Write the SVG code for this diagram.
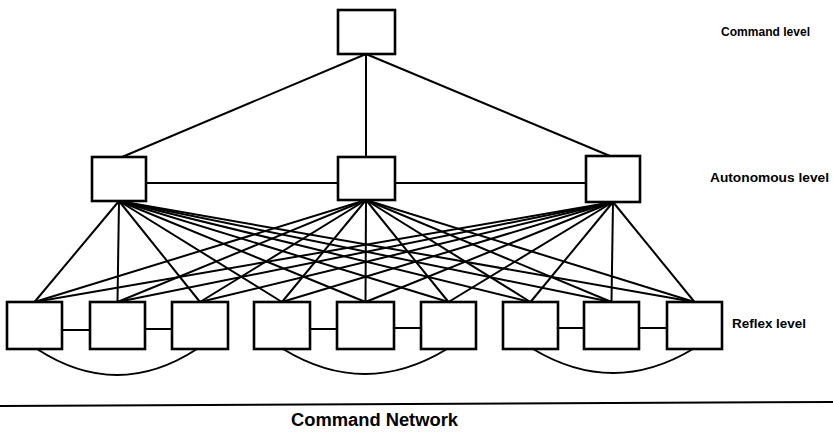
<svg xmlns="http://www.w3.org/2000/svg" width="833" height="432" viewBox="0 0 833 432">
<style>
.box{fill:#fff;stroke:#000;stroke-width:2.6}
.ln{stroke:#000;stroke-width:2;fill:none}
.lbl{font-family:"Liberation Sans",Arial,sans-serif;font-weight:bold;font-size:13px;fill:#000}
.title{font-family:"Liberation Sans",Arial,sans-serif;font-weight:bold;font-size:18px;fill:#000}
</style>
<rect width="833" height="432" fill="#fff"/>
<g id="connectors" class="ln">
<line x1="366" y1="54" x2="122" y2="157"/>
<line x1="366" y1="54" x2="366" y2="157"/>
<line x1="366" y1="54" x2="610" y2="156"/>
<line x1="146" y1="183" x2="338" y2="183"/>
<line x1="395" y1="183" x2="586" y2="183"/>
<line x1="119" y1="201" x2="34.5" y2="302"/><line x1="119" y1="201" x2="117.5" y2="302"/><line x1="119" y1="201" x2="200" y2="302"/><line x1="119" y1="201" x2="282" y2="302"/><line x1="119" y1="201" x2="365.5" y2="302"/><line x1="119" y1="201" x2="448.5" y2="302"/><line x1="119" y1="201" x2="530.5" y2="302"/><line x1="119" y1="201" x2="611.5" y2="302"/><line x1="119" y1="201" x2="694.5" y2="302"/>
<line x1="366" y1="200" x2="34.5" y2="302"/><line x1="366" y1="200" x2="117.5" y2="302"/><line x1="366" y1="200" x2="200" y2="302"/><line x1="366" y1="200" x2="282" y2="302"/><line x1="366" y1="200" x2="365.5" y2="302"/><line x1="366" y1="200" x2="448.5" y2="302"/><line x1="366" y1="200" x2="530.5" y2="302"/><line x1="366" y1="200" x2="611.5" y2="302"/><line x1="366" y1="200" x2="694.5" y2="302"/>
<line x1="613" y1="202" x2="34.5" y2="302"/><line x1="613" y1="202" x2="117.5" y2="302"/><line x1="613" y1="202" x2="200" y2="302"/><line x1="613" y1="202" x2="282" y2="302"/><line x1="613" y1="202" x2="365.5" y2="302"/><line x1="613" y1="202" x2="448.5" y2="302"/><line x1="613" y1="202" x2="530.5" y2="302"/><line x1="613" y1="202" x2="611.5" y2="302"/><line x1="613" y1="202" x2="694.5" y2="302"/>
<line x1="62" y1="330" x2="90" y2="330"/>
<line x1="145" y1="329" x2="172" y2="329"/>
<line x1="310" y1="329" x2="337" y2="329"/>
<line x1="394" y1="328" x2="421" y2="328"/>
<line x1="558" y1="328" x2="584" y2="328"/>
<line x1="639" y1="328" x2="667" y2="328"/>
<path d="M37 349 Q117 401 197 349"/>
<path d="M283 349 Q365 399 447 349"/>
<path d="M533 349 Q613 397 693 349"/>
</g>
<g id="command"><rect class="box" x="338" y="10" width="57" height="44"/></g>
<g id="auto1"><rect class="box" x="92" y="157" width="54" height="44"/></g>
<g id="auto2"><rect class="box" x="338" y="157" width="57" height="43"/></g>
<g id="auto3"><rect class="box" x="586" y="156" width="54" height="46"/></g>
<g id="reflex1"><rect class="box" x="7" y="302" width="55" height="47"/></g>
<g id="reflex2"><rect class="box" x="90" y="302" width="55" height="47"/></g>
<g id="reflex3"><rect class="box" x="172" y="302" width="56" height="47"/></g>
<g id="reflex4"><rect class="box" x="254" y="302" width="56" height="47"/></g>
<g id="reflex5"><rect class="box" x="337" y="302" width="57" height="47"/></g>
<g id="reflex6"><rect class="box" x="421" y="302" width="55" height="47"/></g>
<g id="reflex7"><rect class="box" x="503" y="302" width="55" height="47"/></g>
<g id="reflex8"><rect class="box" x="584" y="302" width="55" height="47"/></g>
<g id="reflex9"><rect class="box" x="667" y="302" width="55" height="47"/></g>
<g id="labels">
<text class="lbl" x="721" y="36" textLength="89" lengthAdjust="spacingAndGlyphs">Command level</text>
<text class="lbl" x="710" y="182" textLength="119" lengthAdjust="spacingAndGlyphs">Autonomous level</text>
<text class="lbl" x="732" y="328" textLength="74" lengthAdjust="spacingAndGlyphs">Reflex level</text>
</g>
<g id="footer">
<line x1="0" y1="406" x2="833" y2="402" stroke="#000" stroke-width="2"/>
<text class="title" x="291" y="426" textLength="167" lengthAdjust="spacingAndGlyphs">Command Network</text>
</g>
</svg>
